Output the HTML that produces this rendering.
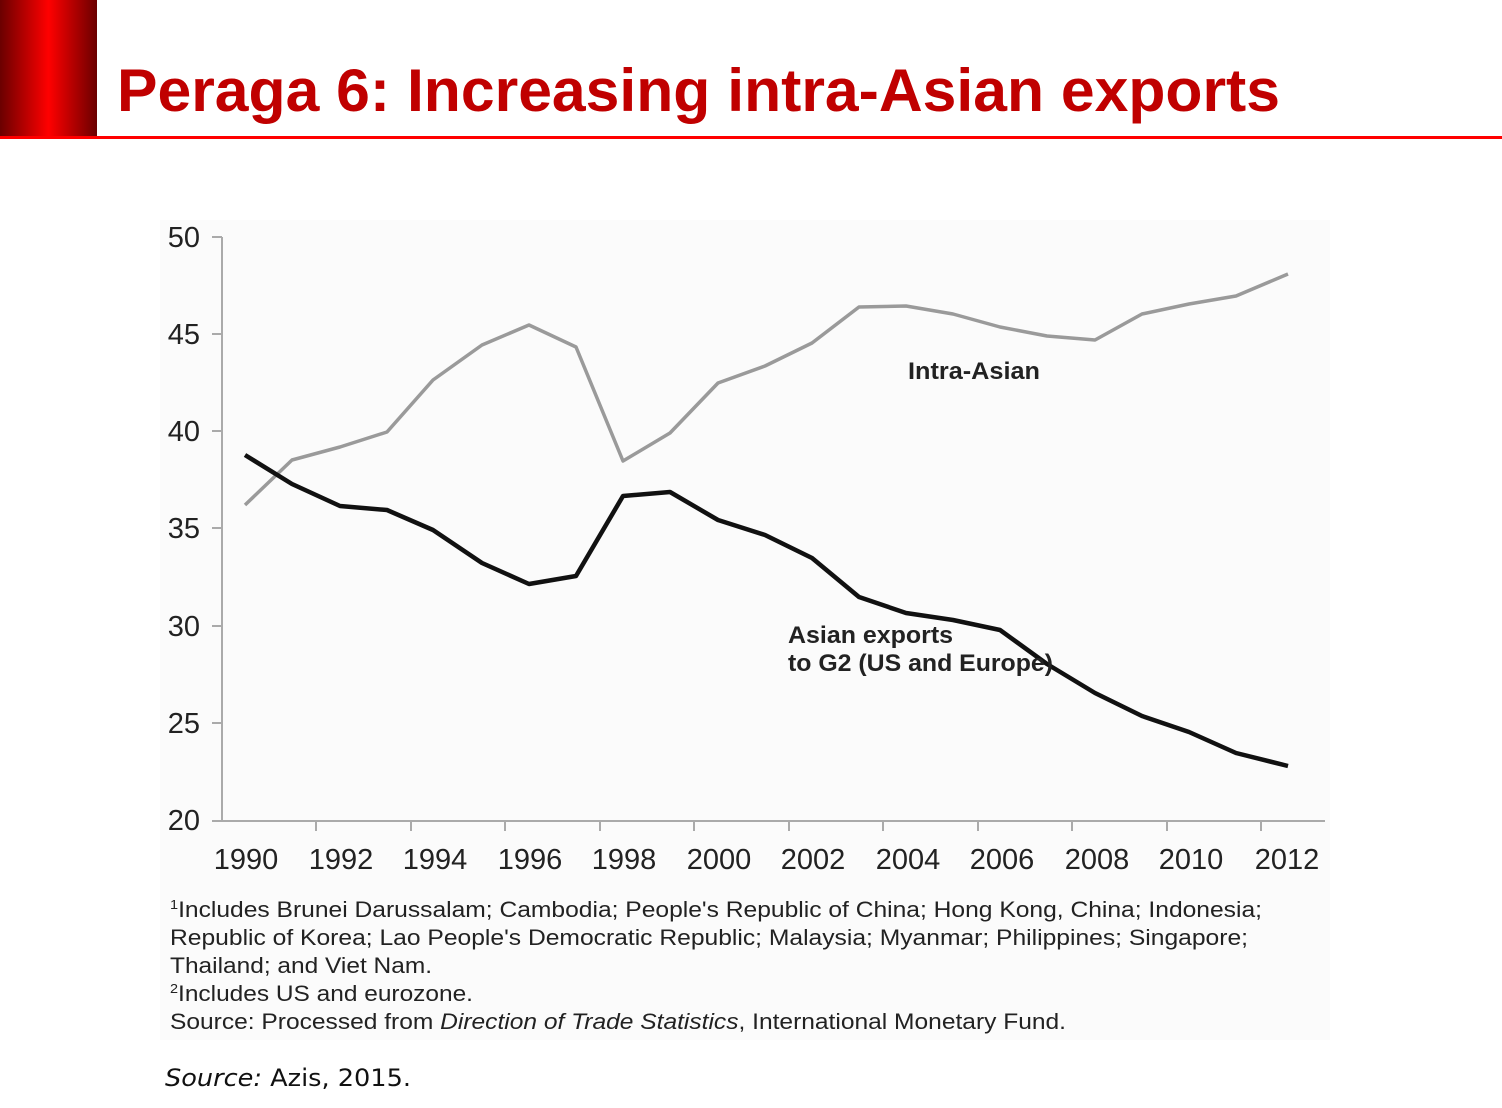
<!DOCTYPE html>
<html><head><meta charset="utf-8"><style>
html,body{margin:0;padding:0;background:#fff;}
svg{display:block;}
</style></head><body>
<svg width="1502" height="1108" viewBox="0 0 1502 1108" xmlns="http://www.w3.org/2000/svg">
<defs>
<linearGradient id="rg" x1="0" x2="1" y1="0" y2="0">
<stop offset="0" stop-color="#6a0000"/><stop offset="0.5" stop-color="#ff0000"/><stop offset="1" stop-color="#6a0000"/>
</linearGradient>
</defs>
<rect x="0" y="0" width="97" height="137" fill="url(#rg)"/>
<rect x="0" y="136" width="1502" height="3" fill="#ff0000"/>
<text x="117" y="111" font-family="Liberation Sans, sans-serif" font-weight="bold" font-size="60" fill="#c00000" textLength="1163" lengthAdjust="spacingAndGlyphs">Peraga 6: Increasing intra-Asian exports</text>

<rect x="160" y="220" width="1170" height="820" fill="#fbfbfb"/>
<g stroke="#aaa" stroke-width="2" fill="none">
<line x1="222" y1="237" x2="222" y2="822"/>
<line x1="212" y1="821" x2="1325" y2="821"/>
<line x1="212" y1="237" x2="222" y2="237"/>
<line x1="212" y1="334" x2="222" y2="334"/>
<line x1="212" y1="431" x2="222" y2="431"/>
<line x1="212" y1="528" x2="222" y2="528"/>
<line x1="212" y1="626" x2="222" y2="626"/>
<line x1="212" y1="723" x2="222" y2="723"/>
<line x1="316" y1="821" x2="316" y2="831"/><line x1="411" y1="821" x2="411" y2="831"/>
<line x1="505" y1="821" x2="505" y2="831"/><line x1="600" y1="821" x2="600" y2="831"/>
<line x1="694" y1="821" x2="694" y2="831"/><line x1="789" y1="821" x2="789" y2="831"/>
<line x1="883" y1="821" x2="883" y2="831"/><line x1="978" y1="821" x2="978" y2="831"/>
<line x1="1072" y1="821" x2="1072" y2="831"/><line x1="1167" y1="821" x2="1167" y2="831"/>
<line x1="1261" y1="821" x2="1261" y2="831"/>
</g>
<g font-family="Liberation Sans, sans-serif" font-size="29" fill="#222" text-anchor="end">
<text x="200" y="247">50</text><text x="200" y="344">45</text><text x="200" y="441">40</text>
<text x="200" y="538">35</text><text x="200" y="636">30</text><text x="200" y="733">25</text><text x="200" y="830">20</text>
</g>
<g font-family="Liberation Sans, sans-serif" font-size="29" fill="#222" text-anchor="middle">
<text x="246" y="869">1990</text><text x="341" y="869">1992</text><text x="435" y="869">1994</text>
<text x="530" y="869">1996</text><text x="624" y="869">1998</text><text x="719" y="869">2000</text>
<text x="813" y="869">2002</text><text x="908" y="869">2004</text><text x="1002" y="869">2006</text>
<text x="1097" y="869">2008</text><text x="1191" y="869">2010</text><text x="1287" y="869">2012</text>
</g>
<polyline fill="none" stroke="#9a9a9a" stroke-width="3.5" stroke-linejoin="round" points="245,505 292,460 340,447 387,432 433,380 482,345 529,325 576,347 623,461 670,433 718,383 765,366 812,343 859,307 906,306 953,314 1000,327 1047,336 1095,340 1142,314 1189,304 1236,296 1288,274"/>
<polyline fill="none" stroke="#111" stroke-width="4.5" stroke-linejoin="round" points="245,455 292,484 340,506 387,510 433,530 482,563 529,584 576,576 623,496 670,492 718,520 765,535 812,558 859,597 906,613 953,620 1000,630 1047,664 1095,693 1142,716 1189,732 1236,753 1288,766"/>
<g font-family="Liberation Sans, sans-serif" font-weight="bold" font-size="24" fill="#222">
<text x="908" y="379" textLength="132" lengthAdjust="spacingAndGlyphs">Intra-Asian</text>
<text x="788" y="643" textLength="165" lengthAdjust="spacingAndGlyphs">Asian exports</text>
<text x="788" y="671" textLength="265" lengthAdjust="spacingAndGlyphs">to G2 (US and Europe)</text>
</g>
<g font-family="Liberation Sans, sans-serif" font-size="22" fill="#222">
<text x="170" y="917" textLength="1092" lengthAdjust="spacingAndGlyphs"><tspan font-size="13" dy="-8">1</tspan><tspan dy="8">Includes Brunei Darussalam; Cambodia; People's Republic of China; Hong Kong, China; Indonesia;</tspan></text>
<text x="170" y="945" textLength="1078" lengthAdjust="spacingAndGlyphs">Republic of Korea; Lao People's Democratic Republic; Malaysia; Myanmar; Philippines; Singapore;</text>
<text x="170" y="973" textLength="262" lengthAdjust="spacingAndGlyphs">Thailand; and Viet Nam.</text>
<text x="170" y="1001" textLength="303" lengthAdjust="spacingAndGlyphs"><tspan font-size="13" dy="-8">2</tspan><tspan dy="8">Includes US and eurozone.</tspan></text>
<text x="170" y="1029" textLength="896" lengthAdjust="spacingAndGlyphs">Source: Processed from <tspan font-style="italic">Direction of Trade Statistics</tspan>, International Monetary Fund.</text>
</g>
<text x="165" y="1086" font-family="DejaVu Sans, sans-serif" font-size="24" fill="#111" textLength="246" lengthAdjust="spacingAndGlyphs"><tspan font-style="italic">Source:</tspan> Azis, 2015.</text>
</svg>
</body></html>
